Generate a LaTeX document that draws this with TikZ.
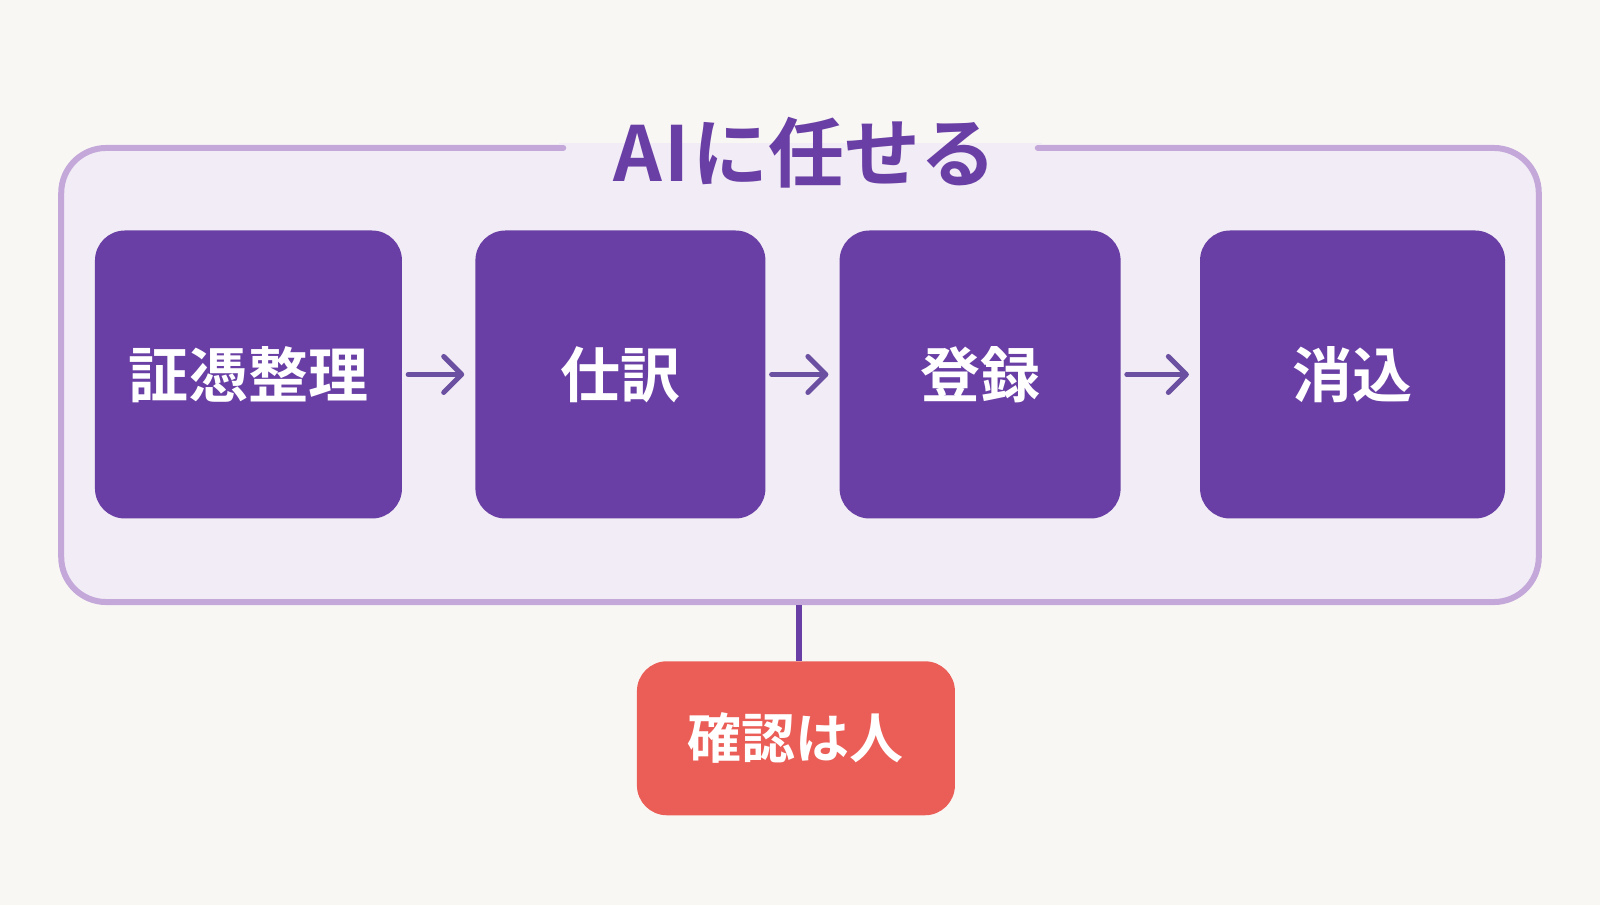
\documentclass[tikz,border=0pt]{standalone}
\usepackage{fontspec}
\newfontfamily\cjk{Noto Sans CJK JP}[BoldFont={* Bold}]
\usetikzlibrary{arrows.meta}
\definecolor{bg}{HTML}{F9F7F4}
\definecolor{grpfill}{HTML}{F1ECF5}
\definecolor{grpline}{HTML}{C4A8DA}
\definecolor{purp}{HTML}{6A3FA5}
\definecolor{arr}{HTML}{6B4FA0}
\definecolor{redb}{HTML}{EB5E57}
\tikzset{
 stepbox/.style={draw=none,fill=purp,rounded corners=30pt,inner sep=0pt,text=white,font=\cjk\bfseries\fontsize{60}{64}\selectfont},
 flow/.style={arr,line width=5pt,line cap=round,-{Straight Barb[length=18pt,width=36pt,line cap=round,line join=round]}},
}
\begin{document}
\begin{tikzpicture}[x=1.0204pt,y=-1.0204pt]
\useasboundingbox (0,0) rectangle (1568,887);
\fill[bg] (0,0) rectangle (1568,887);
\draw[grpline,line width=6pt,fill=grpfill,rounded corners=45pt] (60,145) rectangle (1508,590);
\fill[grpfill] (548,140) rectangle (1021,150);
\draw[grpline,line width=6pt,line cap=round] (552,145) -- (530,145) (1017,145) -- (1040,145);
\node[text=purp,font=\cjk\bfseries\fontsize{76}{80}\selectfont,inner sep=0pt] (title) at (789,150) {A\kern2ptI\kern3ptに任せる};
\node[stepbox,minimum width=307pt,minimum height=288pt] (b1) at (243.5,367) {証憑整理};
\node[stepbox,minimum width=290pt,minimum height=288pt] (b2) at (608,367) {仕訳};
\node[stepbox,minimum width=281pt,minimum height=288pt] (b3) at (960.5,367) {登録};
\node[stepbox,minimum width=305pt,minimum height=288pt] (b4) at (1325.5,367) {消込};
\draw[flow] ([xshift=6pt]b1.east) -- ([xshift=-11pt]b2.west);
\draw[flow] ([xshift=6pt]b2.east) -- ([xshift=-11pt]b3.west);
\draw[flow] ([xshift=6pt]b3.east) -- ([xshift=-11pt]b4.west);
\coordinate (gb) at (783,593);
\node[fill=redb,rounded corners=30pt,minimum width=318pt,minimum height=154pt,inner sep=0pt,text=white,font=\cjk\bfseries\fontsize{54}{58}\selectfont] (r) at (780,723.5) {確認は人};
\draw[purp,line width=6pt] (gb) -- (gb |- r.north);
\end{tikzpicture}
\end{document}
